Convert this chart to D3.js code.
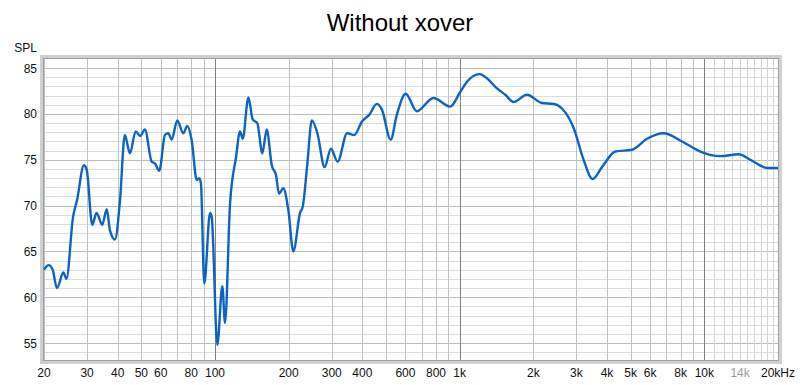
<!DOCTYPE html>
<html>
<head>
<meta charset="utf-8">
<script src="https://cdn.jsdelivr.net/npm/d3@7"></script>
<style>
  body { margin: 0; background: #fff; }
  svg { display: block; font-family: "Liberation Sans", Arial, sans-serif; }
</style>
</head>
<body>
<div class="render"></div>
<script>
// frequency response
var freqs = [20, 20.9, 21.7, 22.6, 24.0, 24.7, 26.3, 27.3, 29.1, 29.9,
    31.5, 32.8, 34.6, 36.1, 37.2, 39.0, 40.9, 42.8, 44.9, 47.4,
    49.4, 51.7, 55.1, 56.8, 59.2, 62.4, 64.4, 66.5, 70.1, 74.2,
    77.0, 80.3, 84.2, 86.3, 87.6, 90.4, 95.4, 96.9, 102.2, 107.1,
    109.9, 115.2, 121.9, 126.5, 129.8, 136.9, 142.6, 148.9, 156.1, 162.7,
    170.6, 177.6, 182.7, 190.2, 199.4, 209, 222.6, 228.4, 238.5, 248.6,
    262.1, 280.5, 297.6, 317, 346.7, 370.3, 399.4, 426.5, 458.5, 480.6,
    522.4, 553.5, 601.4, 668.3, 781.2, 914.4, 1005, 1070, 1205, 1292,
    1420, 1536, 1660, 1883, 2169, 2419, 2618, 2921, 3209, 3492,
    3816, 4325, 5062, 5830, 6817, 8105, 9630, 11630, 13810, 15420,
    17480, 18100, 20000];
var spl = [63.0, 63.5, 63.0, 61.0, 62.7, 62.0, 68.8, 70.6, 74.4, 73.9,
    67.9, 69.2, 67.9, 69.6, 67.3, 66.3, 70.6, 77.7, 75.7, 78.1,
    77.6, 78.3, 74.8, 74.6, 73.8, 77.7, 77.9, 77.2, 79.3, 77.9,
    78.7, 77.1, 72.8, 73.0, 72.4, 61.5, 69.2, 68.8, 54.8, 61.2,
    57.2, 70.2, 75.3, 78.1, 77.3, 81.8, 79.4, 79.0, 75.7, 78.3,
    74.4, 73.3, 71.3, 71.9, 69.5, 65.0, 69.2, 69.9, 74.6, 79.3,
    77.9, 74.2, 76.2, 74.8, 77.9, 77.7, 79.2, 79.9, 81.1, 80.5,
    77.2, 79.9, 82.2, 80.3, 81.75, 80.8, 82.4, 83.5, 84.35, 83.9,
    82.8, 82.1, 81.3, 82.1, 81.2, 81.1, 80.6, 78.5, 75.0, 72.9,
    74.2, 75.9, 76.1, 77.3, 77.9, 77.0, 75.9, 75.4, 75.6, 75.0,
    74.2, 74.1, 74.1];

var xTickVals = [20, 30, 40, 50, 60, 80, 100, 200, 300, 400, 600, 800, 1000,
    2000, 3000, 4000, 5000, 6000, 8000, 10000, 14000, 20000];
var xTickLabels = ["20", "30", "40", "50", "60", "80", "100", "200", "300", "400", "600", "800", "1k",
    "2k", "3k", "4k", "5k", "6k", "8k", "10k", "14k", "20kHz"];
var yTickVals = [55, 60, 65, 70, 75, 80, 85];

var width = 800, height = 385;
var pL = 44, pR = 778, pT = 59, pB = 360;

var svg = d3.select(".render").append("svg")
    .attr("width", width).attr("height", height);

var x = d3.scaleLog().domain([20, 20000]).range([pL, pR]);
var y = d3.scaleLinear().domain([53.15, 86]).range([pB, pT]);

// grid lines
var gridF = [];
[10, 100, 1000].forEach(function(dec) {
    for (var k = 1; k <= 9; k++) {
        var f = dec * k;
        if (f >= 20) gridF.push(f);
    }
});
for (var k = 10; k <= 20; k++) gridF.push(k * 1000);

var g = svg.append("g");

g.selectAll("line.h")
    .data(d3.range(54, 86, 1))
    .enter().append("line")
    .attr("x1", pL).attr("x2", pR)
    .attr("y1", function(d) { return Math.round(y(d)) + 0.5; })
    .attr("y2", function(d) { return Math.round(y(d)) + 0.5; })
    .attr("stroke", function(d) { return d % 5 == 0 ? "#bdbdbd" : "#dcdcdc"; })
    .attr("stroke-width", 1);

g.selectAll("line.v")
    .data(gridF)
    .enter().append("line")
    .attr("y1", pT).attr("y2", pB)
    .attr("x1", function(d) { return Math.round(x(d)) + 0.5; })
    .attr("x2", function(d) { return Math.round(x(d)) + 0.5; })
    .attr("stroke", function(d) {
        if (d == 100 || d == 1000 || d == 10000) return "#808080";
        if (d > 10000) return "#d4d4d4";
        return "#c2c2c2";
    })
    .attr("stroke-width", 1);

// frame
svg.append("rect")
    .attr("x", pL - 2.5).attr("y", pT - 2.5)
    .attr("width", pR - pL + 5).attr("height", pB - pT + 5)
    .attr("fill", "none").attr("stroke", "#d0d0d0").attr("stroke-width", 3);
svg.append("rect")
    .attr("x", pL - 0.5).attr("y", pT - 0.5)
    .attr("width", pR - pL + 1).attr("height", pB - pT + 1)
    .attr("fill", "none").attr("stroke", "#a0a0a0").attr("stroke-width", 1);

// curve
var pts = d3.zip(freqs, spl);
var line = d3.line()
    .x(function(d) { return x(d[0]); })
    .y(function(d) { return y(d[1]); })
    .curve(d3.curveMonotoneX);

svg.append("path")
    .datum(pts)
    .attr("d", line)
    .attr("fill", "none")
    .attr("stroke", "#0d63c2")
    .attr("stroke-width", 2.4)
    .attr("stroke-linejoin", "round");

// axes labels
svg.selectAll("text.xt")
    .data(xTickVals)
    .enter().append("text")
    .attr("x", function(d) { return x(d); })
    .attr("y", 377)
    .attr("text-anchor", "middle")
    .attr("font-size", 12)
    .attr("fill", function(d) { return d == 14000 ? "#9a9a9a" : "#111"; })
    .text(function(d, i) { return xTickLabels[i]; });

svg.selectAll("text.yt")
    .data(yTickVals)
    .enter().append("text")
    .attr("x", 37)
    .attr("y", function(d) { return y(d) + 4.5; })
    .attr("text-anchor", "end")
    .attr("font-size", 12)
    .attr("fill", "#111")
    .text(function(d) { return d; });

svg.append("text")
    .attr("x", 37).attr("y", 52)
    .attr("text-anchor", "end")
    .attr("font-size", 12)
    .attr("fill", "#111")
    .text("SPL");

svg.append("text")
    .attr("x", 400).attr("y", 31)
    .attr("text-anchor", "middle")
    .attr("font-size", 24)
    .attr("fill", "#000")
    .text("Without xover");
</script>
</body>
</html>
